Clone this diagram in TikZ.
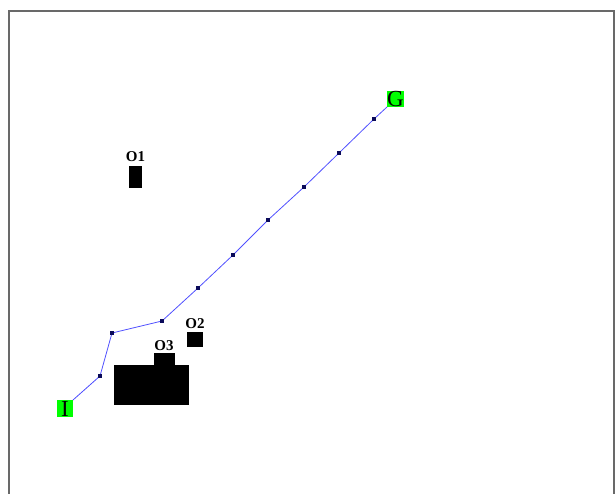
\documentclass[tikz,border=0pt]{standalone}
\usepackage{fontspec}
\setmainfont{Liberation Serif}
\usetikzlibrary{positioning}
\definecolor{pathblue}{RGB}{80,80,255}
\definecolor{boxgreen}{RGB}{0,255,0}
\definecolor{framegray}{RGB}{105,105,105}
\definecolor{wptnavy}{RGB}{10,10,90}
\tikzset{
  endbox/.style={fill=boxgreen, inner sep=0pt, minimum width=16.5pt, minimum height=16.5pt, font=\fontsize{23}{23}\selectfont},
  wpt/.style={fill=wptnavy, inner sep=0pt, minimum size=4.5pt},
  obstlabel/.style={font=\bfseries\fontsize{15}{15}\selectfont, inner sep=0pt},
}
\begin{document}
\begin{tikzpicture}[x=1pt,y=-1pt]
\useasboundingbox (0,0) rectangle (616,493);
\clip (0,0) rectangle (616,493);
\draw[framegray, line width=1.5pt] (9,11) rectangle (614,510);
% obstacles
\fill (129,166) rectangle (142,188);
\fill (187,332) rectangle (203,347);
\fill (114,365) rectangle (189,405);
\fill (154,353) rectangle (175,366);
\node[obstlabel] (o1) at (135.5,157) {O1};
\node[obstlabel] (o2) at (195,324) {O2};
\node[obstlabel] (o3) at (164,346) {O3};
% planned path
\coordinate (p1) at (100,376);
\coordinate (p2) at (112,333);
\coordinate (p3) at (162,321);
\coordinate (p4) at (198,288);
\coordinate (p5) at (233,255);
\coordinate (p6) at (268,220);
\coordinate (p7) at (304,187);
\coordinate (p8) at (339,153);
\coordinate (p9) at (374,119);
\coordinate (s) at (73,400);
\coordinate (g) at (387,107);
\draw[pathblue, line width=0.8pt] (s) -- (p1) -- (p2) -- (p3) -- (p4) -- (p5) -- (p6) -- (p7) -- (p8) -- (p9) -- (g);
\foreach \i in {1,...,9}
  \node[wpt] (m\i) at (p\i) {};
% start and goal
\node[endbox] (start) at (65,408.5) {I};
\node[endbox] (goal) at (395.5,99) {G};
\end{tikzpicture}
\end{document}
